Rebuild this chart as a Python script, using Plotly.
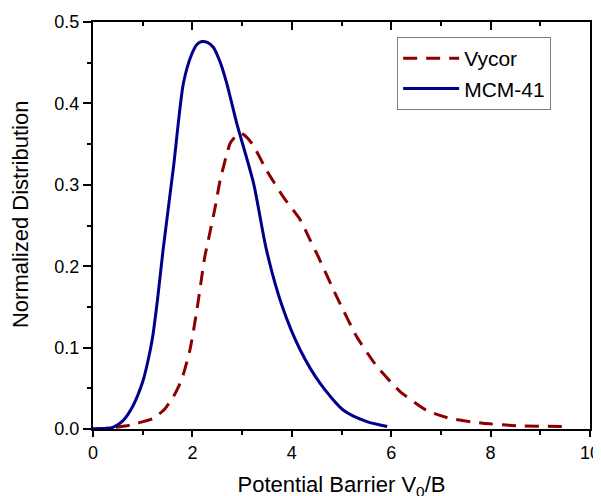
import plotly.graph_objects as go

# MCM-41 (solid blue)
mcm_x = [0, 0.2, 0.4, 0.6, 0.8, 1.0, 1.1, 1.2, 1.3, 1.41, 1.62, 1.82, 1.99, 2.1, 2.19,
         2.3, 2.42, 2.55, 2.69, 2.89, 3.23, 3.49, 3.8, 4.17, 4.57, 5.04, 5.51, 5.92]
mcm_y = [0, 0.0005, 0.002, 0.01, 0.028, 0.058, 0.082, 0.113, 0.160, 0.22, 0.322, 0.425,
         0.461, 0.473, 0.476, 0.475, 0.469, 0.452, 0.425, 0.376, 0.302, 0.22, 0.152,
         0.097, 0.056, 0.023, 0.009, 0.003]

# Vycor (dashed red)
vy_x = [0, 0.3, 0.68, 0.88, 1.21, 1.45, 1.62, 1.78, 1.95, 2.09, 2.25, 2.32, 2.45, 2.56,
        2.76, 2.88, 2.99, 3.1, 3.23, 3.49, 3.83, 4.17, 4.37, 4.53, 4.9, 5.31, 5.71, 6.18,
        6.71, 7.18, 7.85, 8.53, 9.5]
vy_y = [0, 0.001, 0.004, 0.007, 0.013, 0.025, 0.04, 0.06, 0.097, 0.146, 0.212, 0.232,
        0.27, 0.306, 0.351, 0.36, 0.363, 0.358, 0.348, 0.318, 0.285, 0.257, 0.232, 0.212,
        0.163, 0.113, 0.077, 0.046, 0.023, 0.013, 0.007, 0.004, 0.003]

x_range = [0, 10]
y_range = [0, 0.5]
x_title = "Potential Barrier V<sub>0</sub>/B"
y_title = "Normalized Distribution"

FONT = "Liberation Sans, Arial, sans-serif"

fig = go.Figure()
fig.add_trace(go.Scatter(x=vy_x, y=vy_y, mode="lines", name="Vycor",
                         line=dict(color="#8B0000", width=3, dash="14px,9px",
                                   shape="spline", smoothing=0.5)))
fig.add_trace(go.Scatter(x=mcm_x, y=mcm_y, mode="lines", name="MCM-41",
                         line=dict(color="#00008B", width=3, shape="spline", smoothing=0.7)))

tick_common = dict(tickcolor="black", tickwidth=1.5, showgrid=False, zeroline=False,
                   showline=True, linecolor="black", linewidth=2, automargin=False)

# the page body adds an 8px offset; margins compensate for it
fig.update_layout(
    width=601, height=496,
    margin=dict(l=85, r=19, t=14, b=75, autoexpand=False),
    paper_bgcolor="white", plot_bgcolor="white",
    font=dict(family=FONT, color="black", size=18),
    showlegend=True,
    legend=dict(x=0.612, y=0.963, xanchor="left", yanchor="top",
                bordercolor="#808080", borderwidth=1, bgcolor="white",
                itemwidth=56,
                font=dict(size=21, family=FONT), tracegroupgap=0),
    xaxis=dict(range=x_range, tickmode="linear", tick0=0, dtick=2,
               ticks="outside", ticklen=6,
               minor=dict(ticks="outside", ticklen=4, dtick=1, tick0=0,
                          tickcolor="black", tickwidth=1.5),
               tickfont=dict(size=18),
               title=dict(text=x_title, font=dict(size=22), standoff=15),
               **tick_common),
    xaxis2=dict(range=x_range, overlaying="x", side="top", anchor="y",
                tickmode="linear", tick0=0, dtick=2, showticklabels=False,
                ticks="inside", ticklen=8,
                minor=dict(ticks="inside", ticklen=4, dtick=1, tick0=0,
                           tickcolor="black", tickwidth=1.5),
                **tick_common),
    yaxis=dict(range=y_range, tickmode="linear", tick0=0, dtick=0.1, tickformat=".1f",
               ticks="outside", ticklen=8, mirror=True,
               minor=dict(ticks="outside", ticklen=4, dtick=0.05, tick0=0,
                          tickcolor="black", tickwidth=1.5),
               tickfont=dict(size=18),
               **tick_common),
    annotations=[dict(text=y_title, xref="paper", yref="paper",
                      x=-0.147, y=0.528, xanchor="center", yanchor="middle",
                      textangle=-90, showarrow=False, font=dict(size=22, family=FONT))],
)

# invisible trace so the top axis renders
fig.add_trace(go.Scatter(x=x_range, y=[0, 0], xaxis="x2", mode="lines",
                         line=dict(width=0), showlegend=False, hoverinfo="skip"))

fig.write_html("out.html")
